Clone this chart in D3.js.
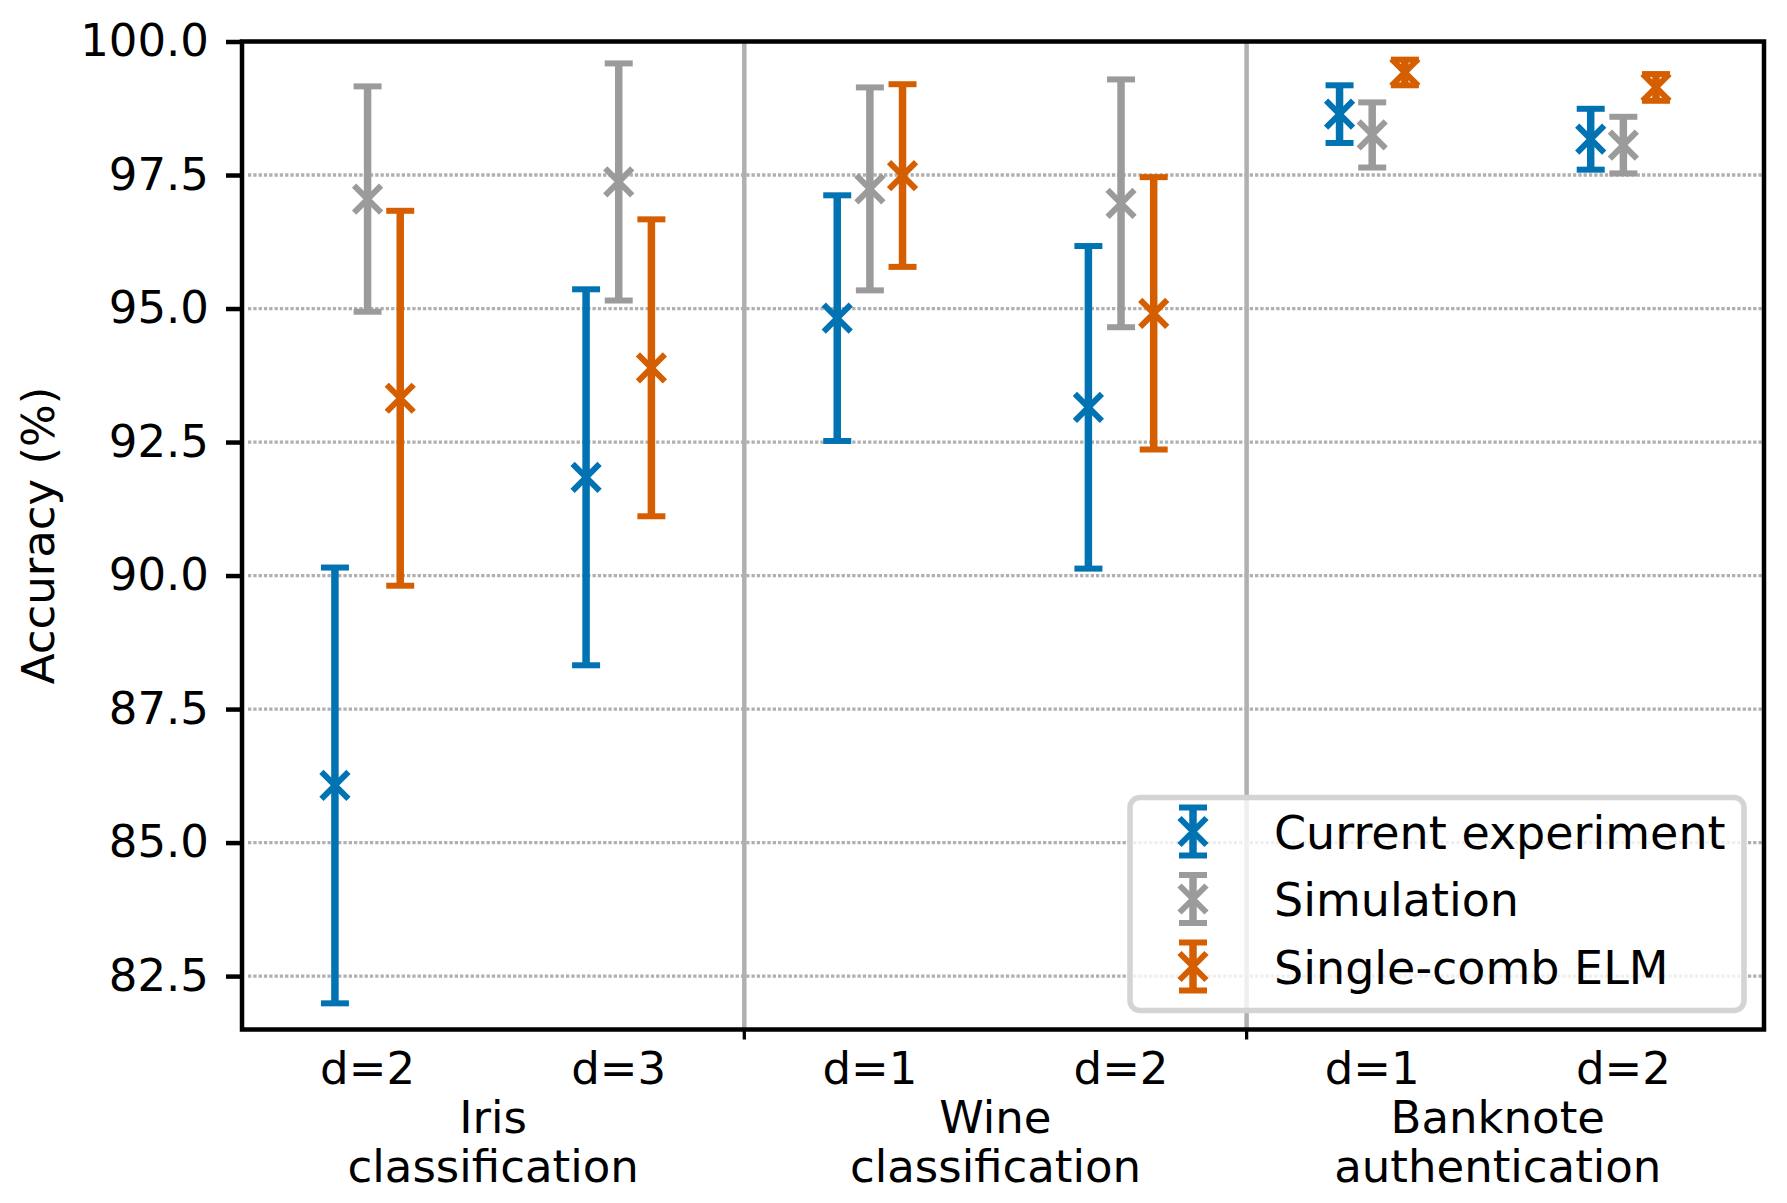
<!DOCTYPE html>
<html>
<head>
<meta charset="utf-8">
<script src="https://cdn.jsdelivr.net/npm/d3@7"></script>
<style>
  body { margin: 0; background: #fff; }
  svg text { font-family: "DejaVu Sans", sans-serif; fill: #000; }
</style>
</head>
<body>
<div id="chart"></div>
<script>
// data
const tickLabels = ["d=2", "d=3", "d=1", "d=2", "d=1", "d=2"];
const groupLabels = [["Iris", "classification"], ["Wine", "classification"], ["Banknote", "authentication"]];
const groupCenters = [0.5, 2.5, 4.5];
const separators = [1.5, 3.5];
const seriesNames = ["Current experiment", "Simulation", "Single-comb ELM"];
const expMean = [86.07, 91.84, 94.82, 93.15, 98.64, 98.17];
const expErr = [4.08, 3.52, 2.30, 3.02, 0.54, 0.57];
const simMean = [97.05, 97.37, 97.24, 96.97, 98.25, 98.06];
const simErr = [2.11, 2.22, 1.90, 2.32, 0.61, 0.53];
const elmMean = [93.32, 93.89, 97.49, 94.91, 99.42, 99.14];
const elmErr = [3.51, 2.78, 1.71, 2.55, 0.24, 0.25];
const yTicks = [82.5, 85.0, 87.5, 90.0, 92.5, 95.0, 97.5, 100.0];

const colors = ["#0173b2", "#9b9b9b", "#d55e00"];
const offsets = [-0.13, 0, 0.13];
const series = [
  { name: seriesNames[0], mean: expMean, err: expErr },
  { name: seriesNames[1], mean: simMean, err: simErr },
  { name: seriesNames[2], mean: elmMean, err: elmErr },
];

const W = 1787, H = 1203;
const margin = { top: 41.5, right: 23, bottom: 173.5, left: 242 };
const width = W - margin.left - margin.right;
const height = H - margin.top - margin.bottom;

const svg = d3.select("#chart").append("svg").attr("width", W).attr("height", H);
const g = svg.append("g").attr("transform", "translate(" + margin.left + "," + margin.top + ")");

const x = d3.scaleLinear().domain([-0.5, 5.56]).range([0, width]);
const y = d3.scaleLinear().domain([81.5, 100]).range([height, 0]);

// dotted horizontal grid
g.append("g").selectAll("line").data(yTicks).enter().append("line")
  .attr("x1", 6).attr("x2", width)
  .attr("y1", d => y(d)).attr("y2", d => y(d))
  .style("stroke", "#b0b0b0").style("stroke-width", 3.3)
  .style("stroke-dasharray", "3.3,2");

// group separators
g.append("g").selectAll("line").data(separators).enter().append("line")
  .attr("x1", d => x(d)).attr("x2", d => x(d))
  .attr("y1", 0).attr("y2", height)
  .style("stroke", "#b0b0b0").style("stroke-width", 4.5);

// error bars
const capHalf = 14, mk = 13.5, elw = 7.5, clw = 6, mlw = 6;
function drawErr(sel, cx, cy, top, bot) {
  sel.append("line").attr("x1", cx).attr("x2", cx).attr("y1", top).attr("y2", bot)
    .style("stroke-width", elw);
  [top, bot].forEach(v => {
    sel.append("line").attr("x1", cx - capHalf).attr("x2", cx + capHalf)
      .attr("y1", v).attr("y2", v).style("stroke-width", clw);
  });
  sel.append("path")
    .attr("d", `M${cx - mk},${cy - mk}L${cx + mk},${cy + mk}M${cx - mk},${cy + mk}L${cx + mk},${cy - mk}`)
    .style("stroke-width", mlw);
}
series.forEach((s, si) => {
  const sg = g.append("g").style("stroke", colors[si]).style("fill", "none");
  s.mean.forEach((m, i) => {
    drawErr(sg, x(i + offsets[si]), y(m), y(m + s.err[i]), y(m - s.err[i]));
  });
});

// axes
const yAxis = g.append("g")
  .call(d3.axisLeft(y).tickValues(yTicks).tickFormat(d3.format(".1f")).tickSize(16).tickPadding(17));
yAxis.select(".domain").remove();
yAxis.selectAll(".tick line").style("stroke", "#000").style("stroke-width", 4.5);
yAxis.selectAll(".tick text").style("font-size", "45px");

// minor ticks at separators
g.append("g").selectAll("line").data(separators).enter().append("line")
  .attr("x1", d => x(d)).attr("x2", d => x(d))
  .attr("y1", height).attr("y2", height + 10)
  .style("stroke", "#000").style("stroke-width", 3.3);

g.append("g").selectAll("text").data(tickLabels).enter().append("text")
  .attr("x", (d, i) => x(i)).attr("y", height + 54)
  .attr("text-anchor", "middle").style("font-size", "45px")
  .text(d => d);

const gl = g.append("g").selectAll("text").data(groupLabels).enter().append("text")
  .attr("text-anchor", "middle").style("font-size", "45px");
gl.each(function (d, i) {
  const t = d3.select(this);
  d.forEach((line, k) => {
    t.append("tspan").attr("x", x(groupCenters[i])).attr("y", height + 103 + k * 49).text(line);
  });
});

// frame
g.append("rect").attr("width", width).attr("height", height)
  .style("fill", "none").style("stroke", "#000").style("stroke-width", 4.5);

// y label
svg.append("text")
  .attr("transform", "translate(54," + (margin.top + height / 2) + ") rotate(-90)")
  .attr("text-anchor", "middle").style("font-size", "45px")
  .text("Accuracy (%)");

// legend
const lg = svg.append("g").attr("transform", "translate(1130,797.5)");
lg.append("rect").attr("width", 614).attr("height", 213).attr("rx", 10)
  .style("fill", "#fff").style("fill-opacity", 0.8)
  .style("stroke", "#d4d4d4").style("stroke-width", 5.5);
series.forEach((s, si) => {
  const cy = 34 + si * 67.5, cx = 63;
  const e = lg.append("g").style("stroke", colors[si]).style("fill", "none");
  drawErr(e, cx, cy, cy - 24, cy + 24);
  lg.append("text").attr("x", 144).attr("y", cy + 17).style("font-size", "46px").text(s.name);
});
</script>
</body>
</html>
